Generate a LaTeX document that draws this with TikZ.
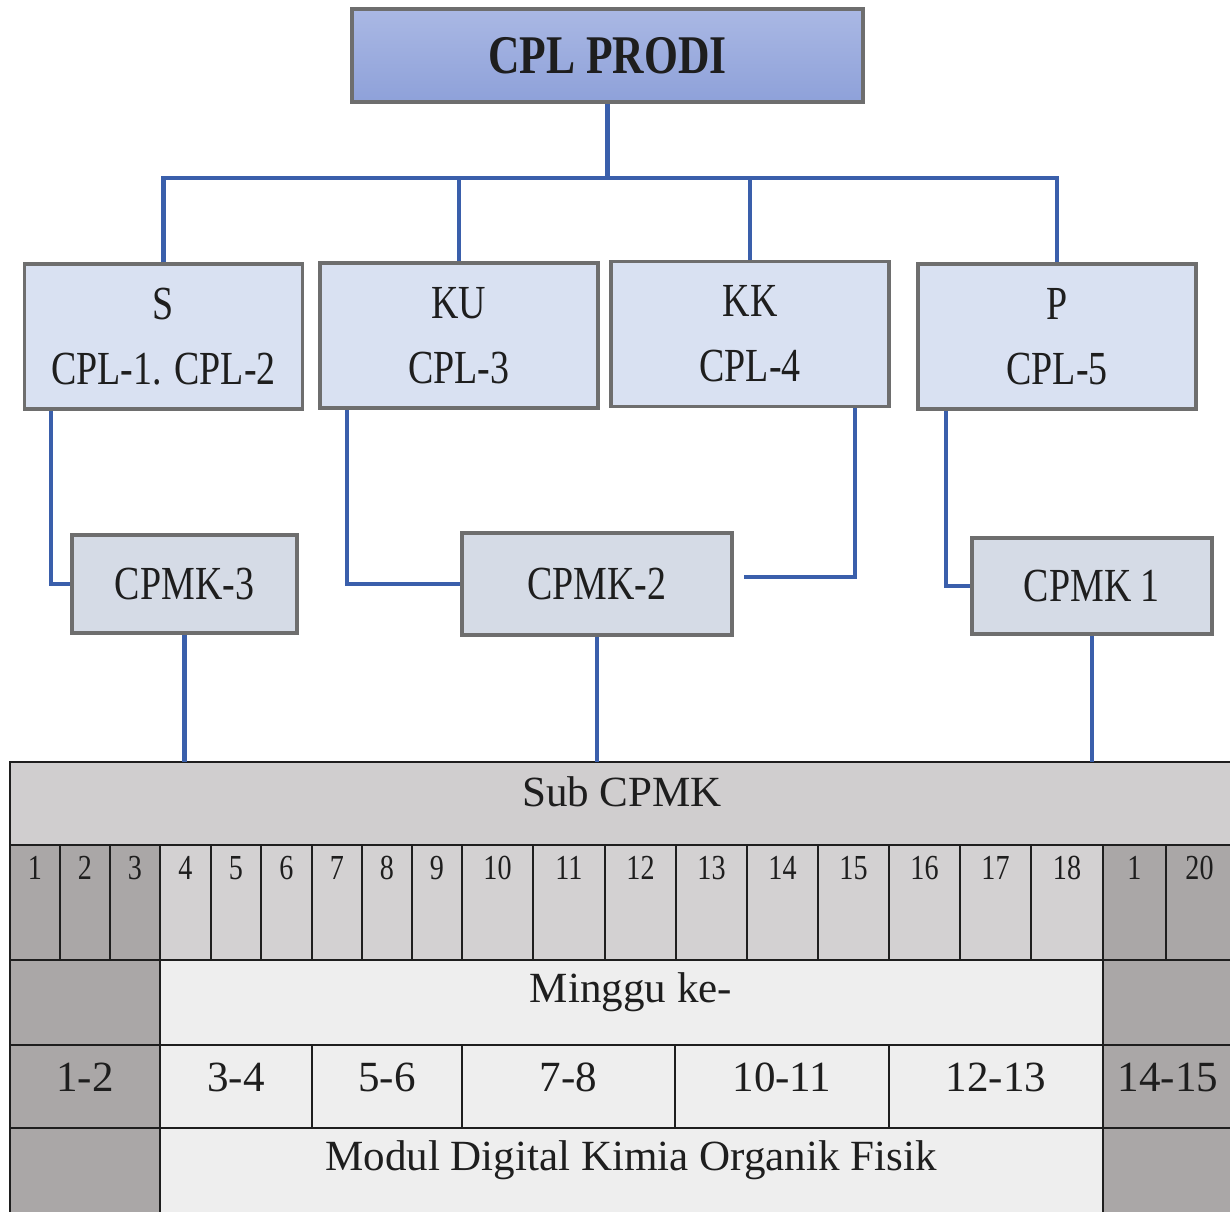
\documentclass[tikz,border=0pt]{standalone}
\usepackage{fontspec}
\setmainfont{Liberation Serif}
\newfontfamily\narrowfont[FakeStretch=0.8]{Liberation Serif}
\usepackage{tikz}
\usetikzlibrary{positioning}

\definecolor{linkblue}{HTML}{3A5FAB}
\definecolor{boxgray}{HTML}{6E6E6E}
\definecolor{cplfill}{HTML}{D9E1F2}
\definecolor{cpmkfill}{HTML}{D5DBE6}
\definecolor{prodtop}{HTML}{AAB8E4}
\definecolor{prodbot}{HTML}{8EA1D9}
\definecolor{subfill}{HTML}{D0CECF}
\definecolor{numfill}{HTML}{D3D1D2}
\definecolor{darkfill}{HTML}{AAA7A7}
\definecolor{lightfill}{HTML}{EEEEEE}
\definecolor{inkgray}{HTML}{1E1E1E}

\begin{document}
\begin{tikzpicture}[x=0.02cm, y=-0.02cm,
    link/.style={draw=linkblue, line width=2.4pt},
    cplbox/.style={draw=boxgray, line width=2pt, fill=cplfill, align=center,
        minimum width=5.56cm, minimum height=2.9cm, inner sep=0pt,
        font=\narrowfont\fontsize{27}{37}\selectfont, text=inkgray},
    cpmkbox/.style={draw=boxgray, line width=2pt, fill=cpmkfill, inner sep=0pt,
        minimum height=1.96cm, font=\narrowfont\fontsize{27}{32}\selectfont, text=inkgray},
    cell/.style={draw=inkgray, line width=1.5pt},
    tabtext/.style={font=\fontsize{24.5}{28}\selectfont, text=inkgray, inner sep=0pt},
    numtext/.style={font=\narrowfont\fontsize{20}{24}\selectfont, text=inkgray, inner sep=0pt}]

    \useasboundingbox (0,0) rectangle (1230,1211);

    % top of the tree
    \node[draw=boxgray, line width=2pt, top color=prodtop, bottom color=prodbot,
        minimum width=10.22cm, minimum height=1.86cm, inner sep=0pt,
        font=\narrowfont\bfseries\fontsize{31}{36}\selectfont, text=inkgray]
        (prodi) at (607.5,55.5) {CPL PRODI};

    \node[cplbox] (S) at (163.5,336.5) {S\\CPL-1. CPL-2};
    \node[cplbox] (KU) at (459,335.5) {KU\\CPL-3};
    \node[cplbox] (KK) at (750,334) {KK\\CPL-4};
    \node[cplbox] (P) at (1057,336.5) {P\\CPL-5};

    \node[cpmkbox, minimum width=4.5cm] (cpmk3) at (184.5,584) {CPMK-3};
    \node[cpmkbox, minimum width=5.4cm, minimum height=2.04cm] (cpmk2) at (597,584) {CPMK-2};
    \node[cpmkbox, minimum width=4.8cm, minimum height=1.92cm] (cpmk1) at (1092,586) {CPMK 1};

    \draw[link] (prodi.south) -- ++(0,74) coordinate (hub);
    \draw[link] (S.north) |- (hub) -| (P.north);
    \draw[link] (KU.north) -- (KU.north |- hub);
    \draw[link] (KK.north) -- (KK.north |- hub);

    \draw[link] ([xshift=0.56cm]S.south west) |- (cpmk3.west);
    \draw[link] ([xshift=0.58cm]KU.south west) |- (cpmk2.west);
    \draw[link, shorten >=0.2cm] ([xshift=-0.72cm]KK.south east) |- ([yshift=0.14cm]cpmk2.east);
    \draw[link] ([xshift=0.6cm]P.south west) |- (cpmk1.west);

    % table
    \coordinate (tabtop) at (10,762);
    \draw[cell, fill=subfill] (tabtop) rectangle (1233,845);
    \node[tabtext] (sub) at (622,792) {Sub CPMK};

    \foreach \xa/\xb/\lab/\col [count=\i] in {10/60/1/darkfill, 60/110/2/darkfill,
        110/160/3/darkfill, 160/211/4/numfill, 211/261/5/numfill, 261/312/6/numfill,
        312/362/7/numfill, 362/412/8/numfill, 412/462/9/numfill, 462/533/10/numfill,
        533/605/11/numfill, 605/676/12/numfill, 676/747/13/numfill, 747/818/14/numfill,
        818/889/15/numfill, 889/960/16/numfill, 960/1031/17/numfill, 1031/1103/18/numfill,
        1103/1166/1/darkfill, 1166/1233/20/darkfill}{
        \draw[cell, fill=\col] (\xa,845) rectangle (\xb,960);
        \node[numtext] (num\i) at ({(\xa+\xb)/2},868) {\lab};
    }

    \draw[cell, fill=darkfill] (10,960) rectangle (160,1045);
    \draw[cell, fill=lightfill] (160,960) rectangle (1103,1045);
    \draw[cell, fill=darkfill] (1103,960) rectangle (1233,1045);
    \node[tabtext] (minggu) at (631,992) {Minggu ke-};

    \foreach \xa/\xb/\lab/\col [count=\i] in {10/160/1-2/darkfill, 160/312/3-4/lightfill,
        312/462/5-6/lightfill, 462/675/7-8/lightfill, 675/889/10-11/lightfill,
        889/1103/12-13/lightfill, 1103/1233/14-15/darkfill}{
        \draw[cell, fill=\col] (\xa,1045) rectangle (\xb,1128);
        \node[tabtext] (week\i) at ({(\xa+\xb)/2},1077) {\lab};
    }

    \draw[cell, fill=darkfill] (10,1128) rectangle (160,1214);
    \draw[cell, fill=lightfill] (160,1128) rectangle (1103,1214);
    \draw[cell, fill=darkfill] (1103,1128) rectangle (1233,1214);
    \node[tabtext] (modul) at (631,1160) {Modul Digital Kimia Organik Fisik};

    \draw[link] (cpmk3.south) -- (cpmk3.south |- tabtop);
    \draw[link] (cpmk2.south) -- (cpmk2.south |- tabtop);
    \draw[link] (cpmk1.south) -- (cpmk1.south |- tabtop);

\end{tikzpicture}
\end{document}
